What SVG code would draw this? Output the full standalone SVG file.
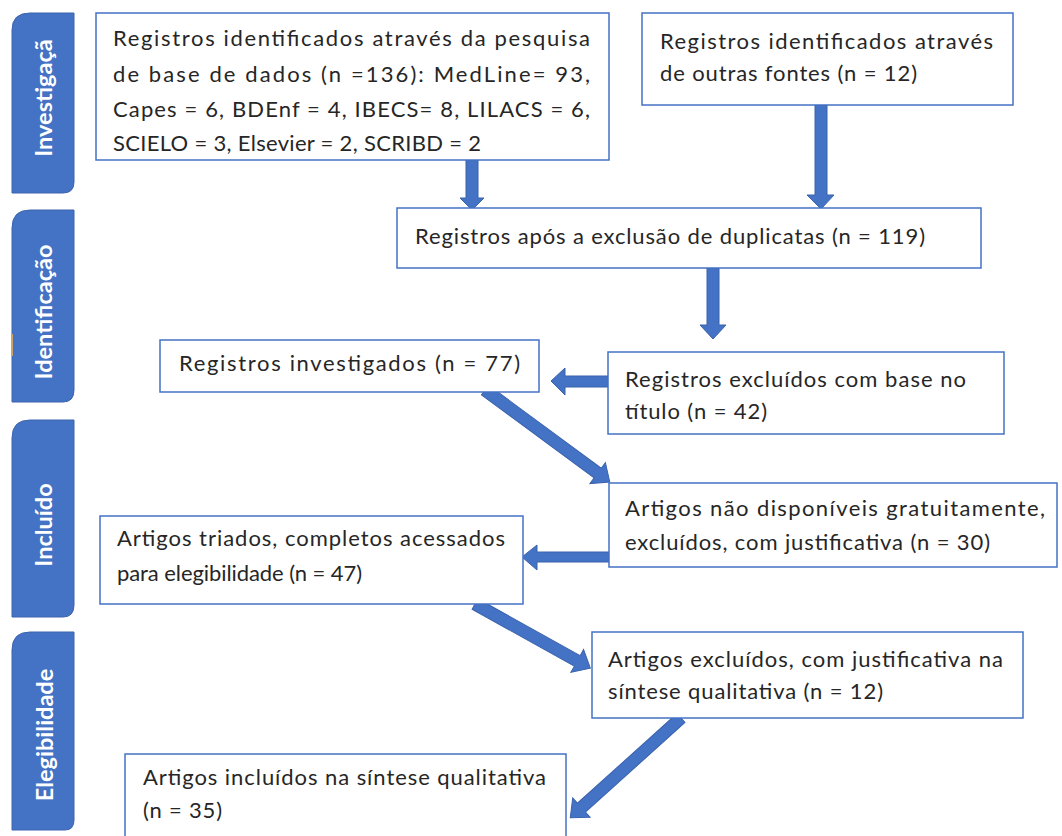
<svg xmlns="http://www.w3.org/2000/svg" width="1062" height="836" viewBox="0 0 1062 836">
<style>
.bg{fill:#ffffff}
.side{fill:#4472C4;stroke:#3c64ad;stroke-width:1}
.stxt{font-family:Lato,"Open Sans","Liberation Sans",sans-serif;font-weight:bold;font-size:23.5px;fill:#ffffff;text-anchor:middle}
.box{fill:#ffffff;stroke:#4472C4;stroke-width:1.5}
.t{font-family:Lato,"Open Sans","Liberation Sans",sans-serif;font-size:22px;fill:#262626}
.arr{fill:#4472C4;stroke:#3a63ad;stroke-width:1}
</style>
<rect class="bg" x="0" y="0" width="1062" height="836"/>
<g id="sidebar">
  <g id="s1"><path class="side" d="M12,193 V30 Q12,13 30,13 H74 V182 Q74,193 63,193 Z"/>
    <text class="stxt" transform="translate(52,98) rotate(-90)">Investigaçã</text></g>
  <g id="s2"><path class="side" d="M12,402 V228 Q12,210 30,210 H74 V390 Q74,402 63,402 Z"/>
    <line x1="12" y1="334" x2="12" y2="356" stroke="#c9a56b" stroke-width="2"/>
    <text class="stxt" transform="translate(52,312) rotate(-90)">Identificação</text></g>
  <g id="s3"><path class="side" d="M12,617 V438 Q12,420 30,420 H74 V605 Q74,617 63,617 Z"/>
    <text class="stxt" transform="translate(52,525) rotate(-90)">Incluído</text></g>
  <g id="s4"><path class="side" d="M12,830 V650 Q12,632 30,632 H74 V820 Q74,830 65,830 Z"/>
    <text class="stxt" transform="translate(53,735) rotate(-90)">Elegibilidade</text></g>
</g>
<g id="connectors">
  <path class="arr" d="M466,160 H478 V198 H484 L472,210 L460,198 H466 Z"/>
  <path class="arr" d="M815,105 H827 V195 H834 L821,209 L807,195 H815 Z"/>
  <path class="arr" d="M707,268 H719 V325 H726 L713,339 L700,325 H707 Z"/>
  <path class="arr" d="M608,376 V387 H565 V395 L551,381 L565,368 V376 Z"/>
  <path class="arr" d="M609,552 V562 H537 V570 L522,557 L537,545 V552 Z"/>
  <path class="arr" transform="translate(485,390) rotate(36.4)" d="M0,-6 H140 V-13 L155,0 L140,13 V6 H0 Z"/>
  <path class="arr" transform="translate(475,604) rotate(29.1)" d="M0,-6 H117 V-13 L132,0 L117,13 V6 H0 Z"/>
  <path class="arr" transform="translate(681,718) rotate(138)" d="M0,-6 H134 V-13 L149,0 L134,13 V6 H0 Z"/>
</g>
<g id="nA"><rect class="box" x="96" y="13" width="513" height="147"/>
  <text class="t" x="113" y="46" textLength="477" lengthAdjust="spacing">Registros identificados através da pesquisa</text>
  <text class="t" x="113" y="82" textLength="477" lengthAdjust="spacing">de base de dados (n =136): MedLine= 93,</text>
  <text class="t" x="113" y="117" textLength="477" lengthAdjust="spacing">Capes = 6, BDEnf = 4, IBECS= 8, LILACS = 6,</text>
  <text class="t" x="113" y="151" textLength="368" lengthAdjust="spacing">SCIELO = 3, Elsevier = 2, SCRIBD = 2</text></g>
<g id="nB"><rect class="box" x="642" y="13" width="371" height="92"/>
  <text class="t" x="660" y="49" textLength="333" lengthAdjust="spacing">Registros identificados através</text>
  <text class="t" x="660" y="81" textLength="257" lengthAdjust="spacing">de outras fontes (n = 12)</text></g>
<g id="nC"><rect class="box" x="397" y="208" width="584" height="60"/>
  <text class="t" x="415" y="244" textLength="510" lengthAdjust="spacing">Registros após a exclusão de duplicatas (n = 119)</text></g>
<g id="nD"><rect class="box" x="160" y="340" width="379" height="52"/>
  <text class="t" x="179" y="371" textLength="341" lengthAdjust="spacing">Registros investigados (n = 77)</text></g>
<g id="nE"><rect class="box" x="608" y="352" width="396" height="82"/>
  <text class="t" x="625" y="387" textLength="341" lengthAdjust="spacing">Registros excluídos com base no</text>
  <text class="t" x="625" y="419" textLength="142" lengthAdjust="spacing">título (n = 42)</text></g>
<g id="nF"><rect class="box" x="609" y="483" width="448" height="84"/>
  <text class="t" x="625" y="516" textLength="420" lengthAdjust="spacing">Artigos não disponíveis gratuitamente,</text>
  <text class="t" x="625" y="550" textLength="365" lengthAdjust="spacing">excluídos, com justificativa (n = 30)</text></g>
<g id="nG"><rect class="box" x="100" y="516" width="423" height="88"/>
  <text class="t" x="117" y="546" textLength="388" lengthAdjust="spacing">Artigos triados, completos acessados</text>
  <text class="t" x="117" y="581" textLength="245" lengthAdjust="spacing">para elegibilidade (n = 47)</text></g>
<g id="nH"><rect class="box" x="592" y="632" width="431" height="86"/>
  <text class="t" x="608" y="667" textLength="395" lengthAdjust="spacing">Artigos excluídos, com justificativa na</text>
  <text class="t" x="608" y="699" textLength="275" lengthAdjust="spacing">síntese qualitativa (n = 12)</text></g>
<g id="nI"><rect class="box" x="125" y="754" width="441" height="90"/>
  <text class="t" x="143" y="785" textLength="403" lengthAdjust="spacing">Artigos incluídos na síntese qualitativa</text>
  <text class="t" x="143" y="818" textLength="79" lengthAdjust="spacing">(n = 35)</text></g>
</svg>
